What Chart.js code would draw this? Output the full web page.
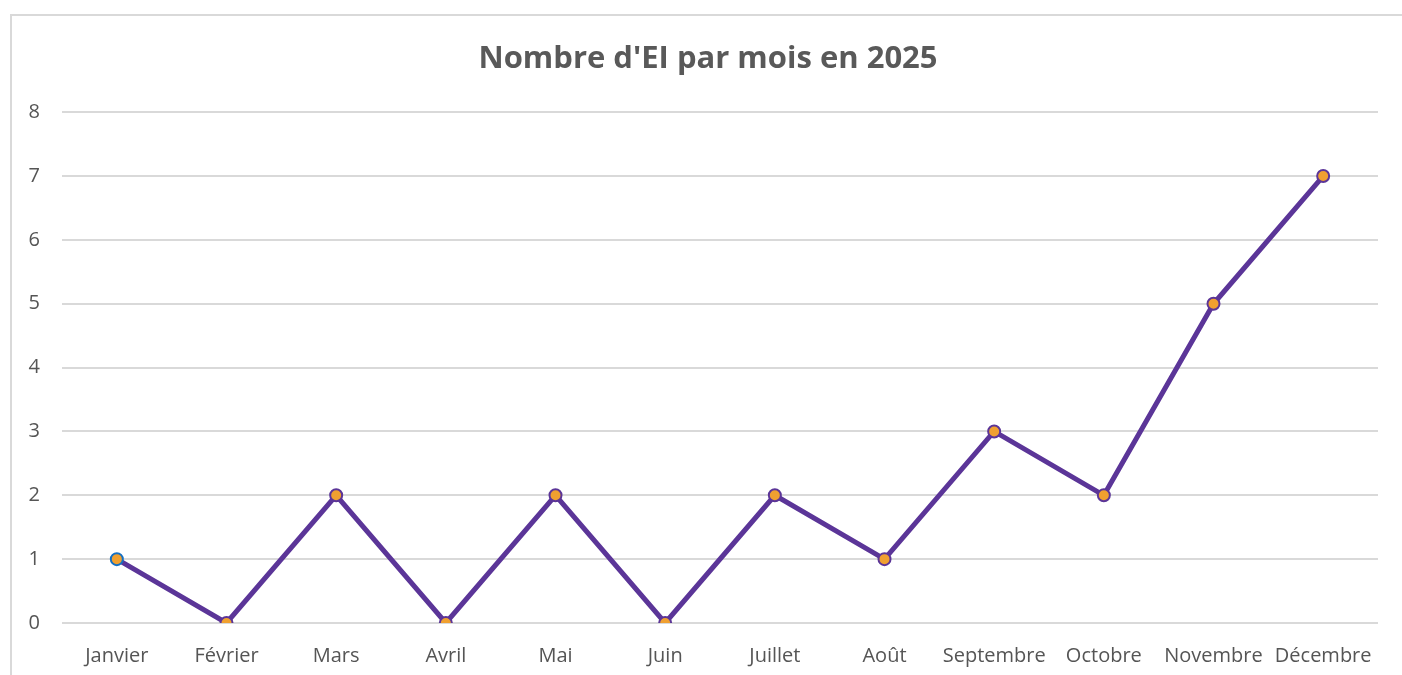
<!DOCTYPE html>
<html>
<head>
<meta charset="utf-8">
<script src="https://cdn.jsdelivr.net/npm/chart.js@4"></script>
<style>
html,body{margin:0;padding:0;background:#fff;overflow:hidden;}
#wrap{position:absolute;left:0;top:0;width:1402px;height:675px;}
</style>
</head>
<body>
<div id="wrap"><canvas id="c" width="1402" height="675"></canvas></div>
<script>
const months = ['Janvier','Février','Mars','Avril','Mai','Juin','Juillet','Août','Septembre','Octobre','Novembre','Décembre'];
const counts = [1,0,2,0,2,0,2,1,3,2,5,7];
const titleText = "Nombre d'EI par mois en 2025";
const yMin = 0, yMax = 8;

const pointBorders = counts.map((v,i)=> i===0 ? '#1470C4' : '#5B3598');

const frame = {
  id:'frame',
  afterLayout(chart){
    const tb = chart.titleBlock;
    if (tb) { tb.left = 38; tb.right = 1378; tb.width = tb.right - tb.left; }
  },
  beforeDraw(chart){
    const ctx = chart.ctx;
    ctx.save();
    ctx.fillStyle='#fff';
    ctx.fillRect(0,0,chart.width,chart.height);
    ctx.strokeStyle='#d9d9d9';
    ctx.lineWidth=2;
    ctx.strokeRect(11,15,1402,700);
    ctx.restore();
  }
};

new Chart(document.getElementById('c'),{
  type:'line',
  data:{labels:months,datasets:[{
    data:counts,
    borderColor:'#5B3598',
    borderWidth:5,
    pointRadius:6,
    pointHoverRadius:6,
    pointBackgroundColor:'#F0A030',
    pointBorderColor:pointBorders,
    pointBorderWidth:2,
    tension:0,
    fill:false
  }]},
  options:{
    responsive:false,
    animation:false,
    layout:{padding:{left:0,right:24,top:0,bottom:0}},
    plugins:{
      legend:{display:false},
      tooltip:{enabled:false},
      title:{display:true,text:titleText,color:'#595959',
        font:{family:'"Open Sans"',size:31,weight:'bold'},
        padding:{top:41,bottom:34}}
    },
    scales:{
      x:{
        offset:true,
        grid:{display:false,drawTicks:false},
        border:{display:false},
        ticks:{color:'#555555',font:{family:'"Open Sans"',size:20},padding:21,maxRotation:0,autoSkip:false},
        afterFit(s){s.height=52;}
      },
      y:{
        min:yMin,max:yMax,
        grid:{color:'#d9d9d9',lineWidth:2,drawTicks:false},
        border:{display:false},
        ticks:{stepSize:1,color:'#555555',font:{family:'"Open Sans"',size:20},padding:22},
        afterFit(s){s.width=62;}
      }
    }
  },
  plugins:[frame]
});
</script>
</body>
</html>
